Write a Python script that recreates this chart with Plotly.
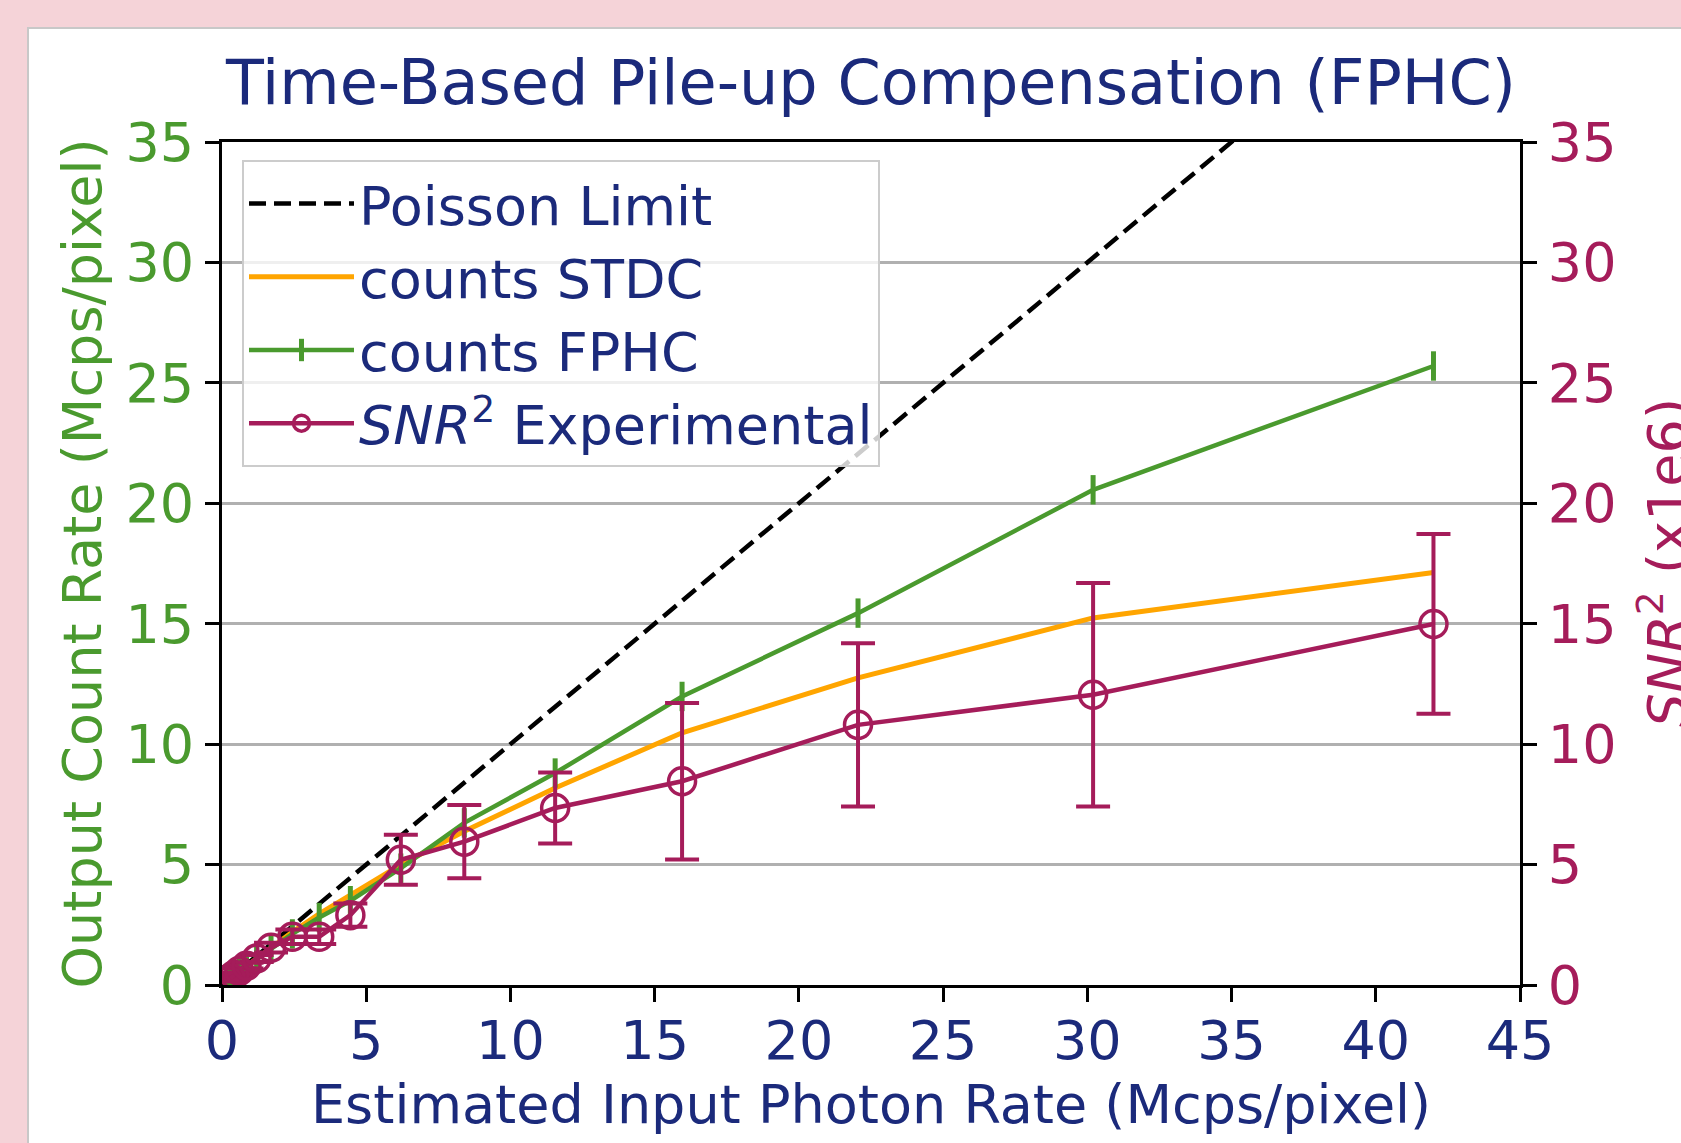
import plotly.graph_objects as go

# ---- data ----
x_rate = [0.2, 0.3, 0.43, 0.6, 0.85, 1.2, 1.7, 2.44, 3.37, 4.45, 6.2, 8.4, 11.55, 15.95, 22.05, 30.2, 42.0]
counts_stdc = [0.2, 0.29, 0.41, 0.57, 0.8, 1.12, 1.56, 2.2, 2.95, 3.75, 5.0, 6.38, 8.18, 10.47, 12.75, 15.24, 17.13]
counts_fphc = [0.19, 0.28, 0.4, 0.55, 0.77, 1.08, 1.5, 2.12, 2.8, 3.5, 4.85, 6.73, 8.8, 11.98, 15.44, 20.56, 25.7]
snr2 = [0.2, 0.3, 0.42, 0.58, 0.8, 1.1, 1.55, 2.0, 2.0, 2.9, 5.2, 5.95, 7.35, 8.46, 10.8, 12.05, 14.99]
snr2_err = [0.05, 0.06, 0.08, 0.1, 0.12, 0.15, 0.2, 0.3, 0.3, 0.48, 1.04, 1.52, 1.47, 3.25, 3.39, 4.64, 3.73]
poisson_x = [0, 45]
poisson_y = [0, 45]

x_ticks = [0, 5, 10, 15, 20, 25, 30, 35, 40, 45]
y_ticks = [0, 5, 10, 15, 20, 25, 30, 35]

NAVY = "#1B2A7B"
GREEN = "#4A9A2E"
CRIMSON = "#A51C5A"
ORANGE = "#FFA500"
PINK = "#F5D3D8"
FONT = "DejaVu Sans"

W, H = 1681, 1143
ML, MR, MT, MB = 222, 161, 142, 158
PW, PH = W - ML - MR, H - MT - MB


def px_x(p):
    return (p - ML) / PW


def px_y(p):
    return (H - MB - p) / PH


fig = go.Figure()

fig.add_trace(go.Scatter(
    x=poisson_x, y=poisson_y, mode="lines", name="Poisson Limit",
    line=dict(color="black", width=4.5, dash="17px,8px"),
))
fig.add_trace(go.Scatter(
    x=x_rate, y=counts_stdc, mode="lines", name="counts STDC",
    line=dict(color=ORANGE, width=5),
))
fig.add_trace(go.Scatter(
    x=x_rate, y=counts_fphc, mode="lines+markers", name="counts FPHC",
    line=dict(color=GREEN, width=4.5),
    marker=dict(symbol="line-ns", size=21, line=dict(color=GREEN, width=5), color=GREEN),
))
fig.add_trace(go.Scatter(
    x=x_rate, y=snr2, mode="lines+markers", name="<i>SNR</i><sup>2</sup> Experimental",
    yaxis="y2",
    line=dict(color=CRIMSON, width=4.5),
    marker=dict(symbol="circle-open", size=27, line=dict(color=CRIMSON, width=3.5), color=CRIMSON),
    error_y=dict(type="data", array=snr2_err, visible=True, color=CRIMSON, thickness=4, width=17),
))

axis_common = dict(
    showline=True, linecolor="black", linewidth=3,
    ticks="outside", ticklen=14, tickwidth=3, tickcolor="black",
    zeroline=False,
)

fig.update_layout(
    width=W, height=H,
    margin=dict(l=ML, r=MR, t=MT, b=MB, autoexpand=False),
    paper_bgcolor=PINK,
    plot_bgcolor="white",
    font=dict(family=FONT, size=54, color=NAVY),
    title=dict(
        text="Time-Based Pile-up Compensation (FPHC)",
        font=dict(family=FONT, size=62, color=NAVY),
        x=0.5, xref="paper", xanchor="center",
        y=1 - 82 / H, yanchor="middle",
    ),
    xaxis=dict(
        range=[0, 45], tickvals=x_ticks, showgrid=False, mirror=True,
        tickfont=dict(family=FONT, size=54, color=NAVY),
        ticklabelstandoff=-8,
        **axis_common,
    ),
    yaxis=dict(
        range=[0, 35], tickvals=y_ticks, showgrid=True, gridcolor="#B0B0B0", gridwidth=2.5,
        tickfont=dict(family=FONT, size=54, color=GREEN),
        **axis_common,
    ),
    yaxis2=dict(
        range=[0, 35], tickvals=y_ticks, overlaying="y", side="right", showgrid=False,
        tickfont=dict(family=FONT, size=54, color=CRIMSON),
        **axis_common,
    ),
    showlegend=True,
    legend=dict(
        x=px_x(242), y=px_y(160), xanchor="left", yanchor="top",
        bgcolor="rgba(255,255,255,0.8)", bordercolor="#CCCCCC", borderwidth=2,
        font=dict(family=FONT, size=54, color=NAVY),
        traceorder="normal", itemwidth=105,
    ),
    shapes=[dict(
        type="rect", xref="paper", yref="paper", layer="below",
        x0=px_x(28), x1=px_x(1720), y0=px_y(1180), y1=px_y(28),
        fillcolor="white", line=dict(color="#C8C8C8", width=2),
    )],
    annotations=[
        dict(text="Estimated Input Photon Rate (Mcps/pixel)", xref="paper", yref="paper",
             x=0.5, y=px_y(1104), xanchor="center", yanchor="middle", showarrow=False,
             font=dict(family=FONT, size=54, color=NAVY)),
        dict(text="Output Count Rate (Mcps/pixel)", xref="paper", yref="paper",
             x=px_x(82), y=0.5, xanchor="center", yanchor="middle", showarrow=False,
             textangle=-90, font=dict(family=FONT, size=54, color=GREEN)),
        dict(text="<i>SNR</i><sup>2</sup> (x1e6)", xref="paper", yref="paper",
             x=px_x(1664), y=0.5, xanchor="center", yanchor="middle", showarrow=False,
             textangle=-90, font=dict(family=FONT, size=54, color=CRIMSON)),
    ],
)

fig.write_html(
    "out.html",
    config={"displayModeBar": False},
    post_script="document.body.style.margin='0';document.body.style.background='%s';"
                "document.body.style.overflow='hidden';" % PINK,
)
